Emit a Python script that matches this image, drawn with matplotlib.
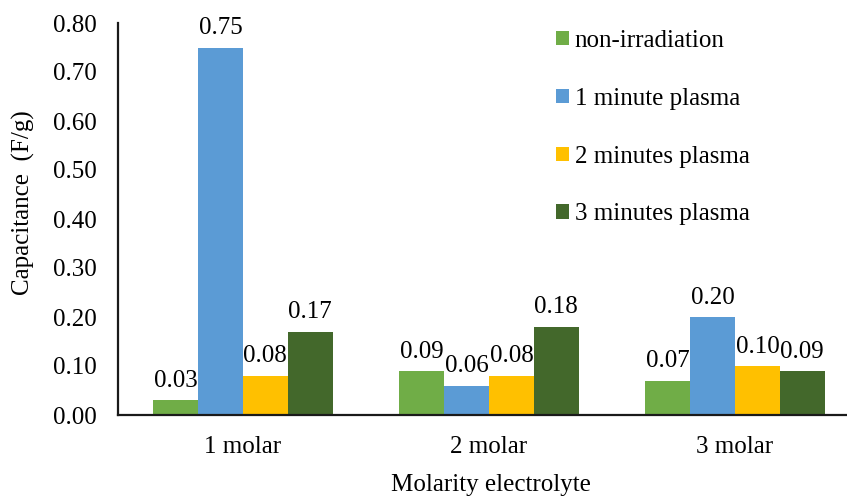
import numpy as np
import matplotlib.pyplot as plt

plt.rcParams['font.family'] = ['Liberation Serif', 'DejaVu Serif']

categories = ["1 molar", "2 molar", "3 molar"]
series_names = ["non-irradiation", "1 minute plasma", "2 minutes plasma", "3 minutes plasma"]
non_irradiation = [0.03, 0.09, 0.07]
plasma_1min = [0.75, 0.06, 0.20]
plasma_2min = [0.08, 0.08, 0.10]
plasma_3min = [0.17, 0.18, 0.09]
yticks = [0.0, 0.1, 0.2, 0.3, 0.4, 0.5, 0.6, 0.7, 0.8]

colors = ["#70AD47", "#5B9BD5", "#FFC000", "#43682B"]
values = [non_irradiation, plasma_1min, plasma_2min, plasma_3min]

fig = plt.figure(figsize=(8.47, 4.96), dpi=100)
ax = fig.add_axes([118 / 847, 81 / 496, 1 - 118 / 847, 392 / 496])

x = np.arange(len(categories))
w = 0.182
for i, (name, vals, c) in enumerate(zip(series_names, values, colors)):
    bars = ax.bar(x + (i - 1.5) * w, vals, width=w, color=c, label=name)
    ax.bar_label(bars, labels=[f"{v:.2f}" for v in vals], padding=6, fontsize=18)

ax.set_xlim(-0.508, 2.455)
ax.set_ylim(0, 0.8)
ax.set_yticks(yticks)
ax.set_yticklabels([f"{t:.2f}" for t in yticks])
ax.set_xticks(x)
ax.set_xticklabels(categories)
ax.tick_params(axis='both', length=0, labelsize=18)
ax.tick_params(axis='y', pad=15)
ax.tick_params(axis='x', pad=15)

for s in ['top', 'right']:
    ax.spines[s].set_visible(False)
for s in ['left', 'bottom']:
    ax.spines[s].set_linewidth(1.6)
    ax.spines[s].set_color('#1a1a1a')

fig.text(23 / 847, 1 - 203 / 496, "Capacitance  (F/g)", rotation=90,
         ha='center', va='center', fontsize=18)
fig.text(491 / 847, 1 - 485 / 496, "Molarity electrolyte",
         ha='center', va='center', fontsize=18)

ax.legend(loc='upper left', bbox_to_anchor=(556 / 847, 1 - 30 / 496),
          bbox_transform=fig.transFigure, frameon=False, fontsize=18,
          borderpad=0, borderaxespad=0, handlelength=0.5, handleheight=0.5,
          handletextpad=0.25, labelspacing=1.43)

fig.savefig("out.png", dpi=100)
